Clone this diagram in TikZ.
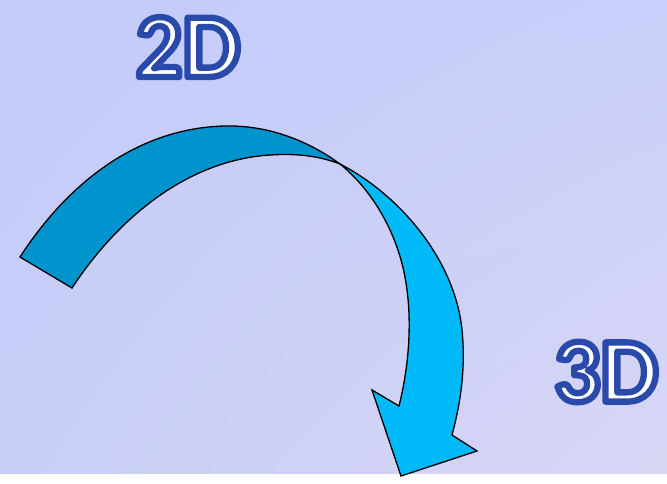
\documentclass[tikz,border=0pt]{standalone}
\usepackage{fontspec}
\newfontfamily\labelfont{Carlito}
\usetikzlibrary{shadings}
\usepackage{xcolor}

\definecolor{bgA}{HTML}{C3CBF9}
\definecolor{bgB}{HTML}{C9CFFA}
\definecolor{bgC}{HTML}{C8CEF7}
\definecolor{bgD}{HTML}{D8D6F5}
\definecolor{bandDark}{HTML}{0094CE}
\definecolor{bandLight}{HTML}{00B9F9}

\tikzset{
  band/.style={draw=black, line width=0.75pt, line join=miter},
  dimtext/.style={font=\labelfont\bfseries\fontsize{52}{52}\selectfont,
    text=white, inner sep=0pt}
}

% white letters with a blue rim (fill, then stroke)
\newcommand{\rimtext}[1]{%
  \special{pdf:literal direct 0.16 0.29 0.67 RG 3.6 w 1 j 2 Tr}#1%
  \special{pdf:literal direct 0 Tr}}

\begin{document}
\begin{tikzpicture}[x=0.02cm, y=-0.02cm]
  \useasboundingbox (0,0) rectangle (667,484);
  \fill[white] (0,0) rectangle (667,484);
  \shade[upper left=bgA, upper right=bgB, lower left=bgC, lower right=bgD]
    (0,0) rectangle (667,473);

  % first half of the band, darker
  \filldraw[band, fill=bandDark]
    (20,257) .. controls (70,180) and (140,128) .. (225,126)
    .. controls (270,125) and (310,142) .. (340,164)
    .. controls (322,157) and (300,153) .. (270,155)
    .. controls (190,160) and (120,215) .. (72,288) -- cycle;

  % second half with the head, lighter
  \filldraw[band, fill=bandLight]
    (340,164) .. controls (400,195) and (455,260) .. (462,330)
    .. controls (466,370) and (460,405) .. (452,435)
    -- (477,451) -- (401,476) -- (372,390) -- (399,406)
    .. controls (408,370) and (414,320) .. (404,272)
    .. controls (395,230) and (372,190) .. (340,164) -- cycle;

  \node[dimtext] (twoD) at (188,47) {\rimtext{2D}};
  \node[dimtext] (threeD) at (606,372) {\rimtext{3D}};
\end{tikzpicture}
\end{document}
